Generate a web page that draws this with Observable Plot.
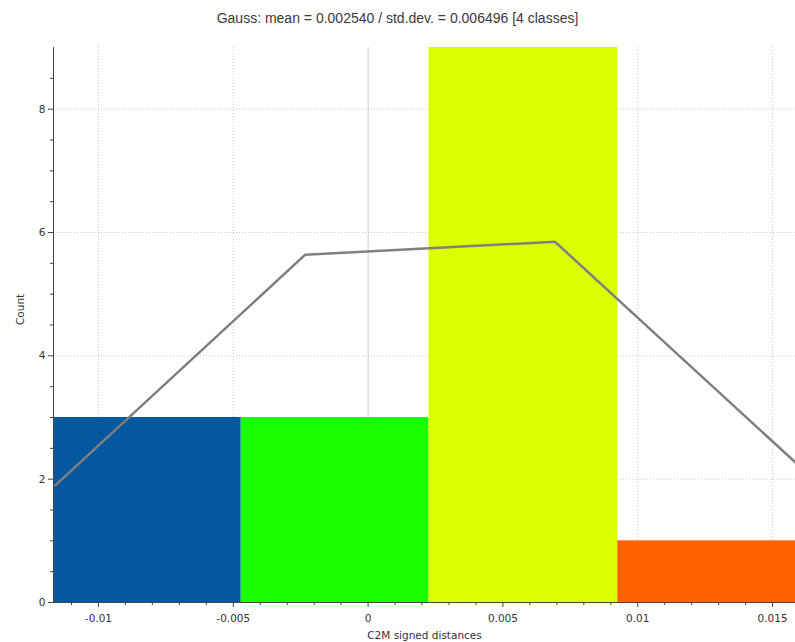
<!DOCTYPE html>
<html>
<head>
<meta charset="utf-8">
<script src="https://cdn.jsdelivr.net/npm/d3@7"></script>
<script src="https://cdn.jsdelivr.net/npm/@observablehq/plot@0.6"></script>
<style>
  html, body { margin: 0; padding: 0; background: #fff; }
  #title { height: 36px; line-height: 36px; text-align: center; font-family: "Liberation Sans", Arial, sans-serif; font-size: 14px; color: #3a3a3a; }
  svg { display: block; }
</style>
</head>
<body>
<div id="title">Gauss: mean = 0.002540 / std.dev. = 0.006496 [4 classes]</div>
<div id="chart"></div>
<script>
const binStart = [-0.011667, -0.004704, 0.002259, 0.009259];
const binEnd   = [-0.004704, 0.002259, 0.009259, 0.016222];
const counts   = [3, 3, 9, 1];
const binColors = ["#03589E", "#19FF00", "#DCFF00", "#FF6300"];

const gaussX = [-0.0116, -0.00233, 0.00693, 0.0162];
const gaussY = [1.9, 5.64, 5.85, 2.13];

const xMajorTicks = [-0.01, -0.005, 0, 0.005, 0.01, 0.015];
const xTickLabels = ["-0.01", "-0.005", "0", "0.005", "0.01", "0.015"];
const xMinorTicks = [-0.011, -0.009, -0.008, -0.007, -0.006, -0.004, -0.003, -0.002, -0.001,
                     0.001, 0.002, 0.003, 0.004, 0.006, 0.007, 0.008, 0.009, 0.011, 0.012, 0.013, 0.014];
const yMajorTicks = [0, 2, 4, 6, 8];
const yMinorTicks = [0.5, 1, 1.5, 2.5, 3, 3.5, 4.5, 5, 5.5, 6.5, 7, 7.5, 8.5];

const xDomain = [-0.011667, 0.01585];
const yDomain = [0, 9];

const bins = counts.map((c, i) => ({x1: binStart[i], x2: binEnd[i], y: c, color: binColors[i]}));
const gauss = gaussX.map((x, i) => ({x, y: gaussY[i]}));

const chart = Plot.plot({
  width: 795,
  height: 606,
  marginTop: 11,
  marginLeft: 53,
  marginRight: 0,
  marginBottom: 40,
  style: {fontFamily: "DejaVu Sans, sans-serif", fontSize: "10.5px", color: "#333", background: "#fff"},
  x: {domain: xDomain, axis: null},
  y: {domain: yDomain, axis: null},
  marks: [
    Plot.gridX(xMajorTicks.filter(v => v !== 0), {stroke: "#c8c8c8", strokeOpacity: 1, strokeDasharray: "1,2"}),
    Plot.gridY(yMajorTicks.filter(v => v !== 0), {stroke: "#c8c8c8", strokeOpacity: 1, strokeDasharray: "1,2"}),
    Plot.ruleX([0], {stroke: "#cfcfcf", strokeWidth: 1}),
    Plot.rect(bins, {x1: "x1", x2: "x2", y1: 0, y2: "y", fill: d => d.color, clip: true}),
    Plot.line(gauss, {x: "x", y: "y", stroke: "#7f7f7f", strokeWidth: 2.5, clip: true}),
    Plot.ruleX([xDomain[0]], {stroke: "#444", strokeWidth: 1}),
    Plot.ruleY([0], {stroke: "#444", strokeWidth: 1}),
    Plot.axisX(xMajorTicks, {tickSize: 5, tickPadding: 7, tickFormat: (d, i) => xTickLabels[i], stroke: "#444", fill: "#333", label: null}),
    Plot.axisX(xMinorTicks, {tickSize: 3, text: null, stroke: "#444", label: null}),
    Plot.axisY(yMajorTicks, {tickSize: 5, tickPadding: 3, tickFormat: d => String(d), stroke: "#444", fill: "#333", label: null}),
    Plot.axisY(yMinorTicks, {tickSize: 3, text: null, stroke: "#444", label: null}),
    Plot.text(["C2M signed distances"], {frameAnchor: "bottom", dy: 36, fill: "#333", fontSize: 10.5}),
    Plot.text(["Count"], {frameAnchor: "left", dx: -33, rotate: -90, fill: "#333", fontSize: 10.5})
  ]
});
document.getElementById("chart").appendChild(chart);
</script>
</body>
</html>
